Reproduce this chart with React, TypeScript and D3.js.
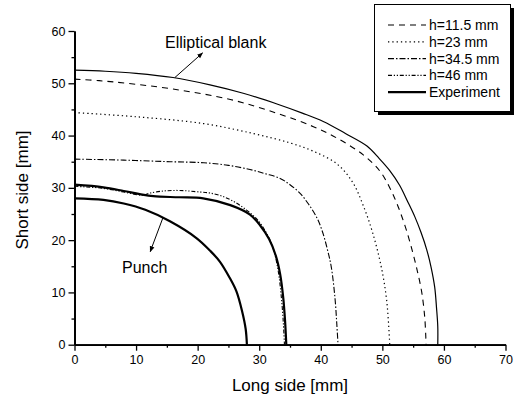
import React, { useEffect, useRef } from 'react';
import * as d3 from 'd3';

// values, [long side, short side] in mm
const blankData = [[0, 52.5], [5, 52.3], [10, 51.9], [16, 51.1], [22, 49.7], [27.4, 48.1], [33, 46], [37, 44.3], [40.4, 42.7], [44, 40.4], [47.5, 38.0], [49.5, 35.6], [51.2, 33.3], [52.8, 30.5], [54.1, 27.4], [55.3, 24.4], [56.3, 21.4], [57.2, 18.2], [57.9, 14.9], [58.5, 11], [58.8, 7], [59, 3.5], [59, 0]];
const h115Data = [[0, 50.8], [4, 50.5], [8.5, 50.0], [16, 48.9], [25.3, 46.9], [32.8, 44.3], [38.8, 41.7], [43.1, 39.2], [46.9, 36.3], [49.6, 33.2], [51.3, 29.8], [52.6, 26.3], [53.8, 22.3], [54.9, 17.8], [55.7, 14], [56.4, 10], [56.9, 5], [57.1, 0]];
const h23Data = [[0, 44.4], [10, 43.6], [20.9, 42.3], [29, 40.4], [35, 38.6], [38.8, 37.0], [42.7, 34.5], [45.2, 31.0], [46.9, 26.6], [48.4, 21.5], [49.8, 15], [50.7, 8.5], [51.2, 0]];
const h345Data = [[0, 35.5], [8, 35.3], [15.5, 35.0], [21, 34.8], [25, 34.3], [28.5, 33.5], [31, 32.7], [33.4, 31.8], [35, 30.6], [36.6, 29.0], [38, 26.9], [39.4, 24.2], [40.3, 21.5], [41.1, 18.1], [41.7, 14.9], [42.3, 9], [42.6, 4], [42.8, 0]];
const h46Data = [[0, 30.3], [4.7, 29.9], [8, 29.2], [11, 28.6], [12.3, 29.0], [14.5, 29.4], [17.1, 29.5], [20.4, 29.2], [22, 29.0], [24, 28.4], [26, 27.3], [28, 25.7], [29.8, 23.8], [31.2, 21.3], [32.3, 18.3], [33.1, 14], [33.6, 9], [33.9, 4.5], [34.1, 0]];
const experimentData = [[0, 30.6], [4.7, 30.1], [8, 29.4], [10.6, 28.8], [12.8, 28.4], [17, 28.2], [20.9, 28.0], [25.3, 26.7], [28.5, 24.9], [30.1, 22.9], [31.6, 20.2], [32.7, 17], [33.4, 13.5], [33.9, 9], [34.2, 4.5], [34.4, 0]];
const punchData = [[0, 28.0], [4.7, 27.7], [8, 27.0], [11.5, 25.8], [15.5, 23.6], [19.8, 20.4], [22, 18.0], [23.6, 15.9], [25.2, 12.8], [26.3, 10.2], [27.2, 6.5], [27.8, 3], [28, 0]];

const legendLabels = ['h=11.5 mm', 'h=23 mm', 'h=34.5 mm', 'h=46 mm', 'Experiment'];
const xTicks = [0, 10, 20, 30, 40, 50, 60, 70];
const yTicks = [0, 10, 20, 30, 40, 50, 60];
const xMinor = [5, 15, 25, 35, 45, 55, 65];
const yMinor = [5, 15, 25, 35, 45, 55];

const font = 'Liberation Sans, Arial, sans-serif';

const series = [
  { data: h115Data, dash: '6,5', width: 1.1 },
  { data: h23Data, dash: '1.3,3', width: 1.2 },
  { data: h345Data, dash: '6,2,1.5,2', width: 1.1 },
  { data: h46Data, dash: '4,1.8,1.2,1.8,1.2,1.8', width: 1.1 },
  { data: experimentData, dash: null, width: 2.2 },
];

export default function App() {
  const xAxisRef = useRef(null);
  const yAxisRef = useRef(null);

  const x = d3.scaleLinear().domain([0, 70]).range([74.5, 505.5]);
  const y = d3.scaleLinear().domain([0, 60]).range([344.7, 31]);
  const line = d3.line().x(d => x(d[0])).y(d => y(d[1])).curve(d3.curveCatmullRom.alpha(0.5));

  useEffect(() => {
    const gx = d3.select(xAxisRef.current);
    gx.selectAll('*').remove();
    gx.append('g').call(d3.axisBottom(x).tickValues(xTicks).tickSize(6).tickSizeOuter(0).tickPadding(4));
    gx.append('g').call(d3.axisBottom(x).tickValues(xMinor).tickSize(3).tickSizeOuter(0).tickFormat(() => ''));

    const gy = d3.select(yAxisRef.current);
    gy.selectAll('*').remove();
    gy.append('g').call(d3.axisLeft(y).tickValues(yTicks).tickSize(6).tickSizeOuter(0).tickPadding(3));
    gy.append('g').call(d3.axisLeft(y).tickValues(yMinor).tickSize(3).tickSizeOuter(0).tickFormat(() => ''));

    [gx, gy].forEach(g => {
      g.selectAll('path.domain').attr('stroke', '#000').attr('stroke-width', 1.8);
      g.selectAll('line').attr('stroke', '#000').attr('stroke-width', 1.3);
      g.selectAll('text').attr('font-family', font).attr('font-size', 12.5).attr('fill', '#000');
    });
  }, []);

  return (
    <svg width={517} height={404} style={{ position: 'absolute', left: 0, top: 0, background: '#fff' }}>
      <defs>
        <marker id="arr" viewBox="0 0 10 10" refX="9" refY="5" markerWidth="6" markerHeight="6" orient="auto">
          <path d="M0,1 L10,5 L0,9 z" fill="#000" />
        </marker>
      </defs>
      <rect width={517} height={404} fill="#fff" />

      <path d={line(blankData) || ''} fill="none" stroke="#000" strokeWidth={1.2} />
      {series.map((s, i) => (
        <path key={i} d={line(s.data) || ''} fill="none" stroke="#000" strokeWidth={s.width}
          strokeDasharray={s.dash || undefined} />
      ))}
      <path d={line(punchData) || ''} fill="none" stroke="#000" strokeWidth={2.2} />

      <g ref={xAxisRef} transform="translate(0,344.7)" />
      <g ref={yAxisRef} transform="translate(74.5,0)" />

      <text x={290} y={391} textAnchor="middle" fontFamily={font} fontSize={17}>Long side [mm]</text>
      <text transform="translate(28,190) rotate(-90)" textAnchor="middle" fontFamily={font} fontSize={17}>Short side [mm]</text>

      <text x={165} y={48} fontFamily={font} fontSize={16}>Elliptical blank</text>
      <line x1={x(16.3)} y1={y(51.1)} x2={x(20.8)} y2={y(55.8)} stroke="#000" strokeWidth={1} markerEnd="url(#arr)" />
      <text x={122} y={273} fontFamily={font} fontSize={16}>Punch</text>
      <line x1={x(14.4)} y1={y(24.4)} x2={x(12.3)} y2={y(17.8)} stroke="#000" strokeWidth={1} markerEnd="url(#arr)" />

      <rect x={378} y={8} width={136} height={107} fill="#000" />
      <rect x={374.5} y={4.5} width={136} height={107} fill="#fff" stroke="#000" strokeWidth={1} />
      {legendLabels.map((lab, i) => {
        const ly = 25 + i * 16.8;
        const s = series[i];
        return (
          <g key={lab}>
            <line x1={388} x2={426} y1={ly} y2={ly} stroke="#000" strokeWidth={s.width}
              strokeDasharray={s.dash || undefined} />
            <text x={429} y={ly + 5} fontFamily={font} fontSize={14}>{lab}</text>
          </g>
        );
      })}
    </svg>
  );
}
